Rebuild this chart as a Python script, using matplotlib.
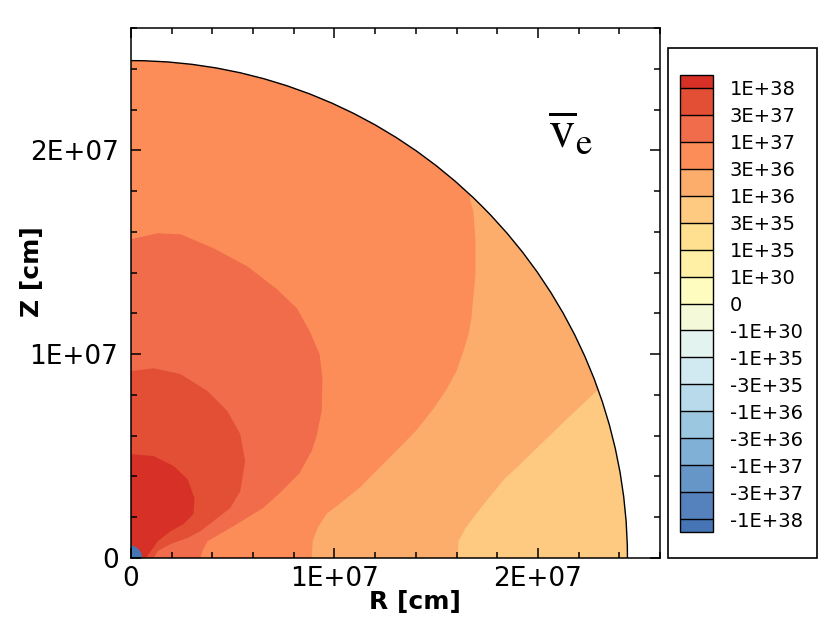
import matplotlib
matplotlib.use("Agg")
import numpy as np
import matplotlib.pyplot as plt
from matplotlib.colors import ListedColormap, BoundaryNorm
from matplotlib.cm import ScalarMappable
from matplotlib.patches import Wedge, Arc, Rectangle
from matplotlib.ticker import MultipleLocator

# --- colour bar levels (bottom to top) and their labels
levels = [-1e38, -3e37, -1e37, -3e36, -1e36, -3e35, -1e35, -1e30, 0,
          1e30, 1e35, 3e35, 1e36, 3e36, 1e37, 3e37, 1e38]
level_labels = ["-1E+38", "-3E+37", "-1E+37", "-3E+36", "-1E+36", "-3E+35",
                "-1E+35", "-1E+30", "0", "1E+30", "1E+35", "3E+35", "1E+36",
                "3E+36", "1E+37", "3E+37", "1E+38"]
band_colors = ["#5582bd", "#6696c8", "#80b0d5", "#9cc7e1", "#b8daeb", "#d1eaf2",
               "#e3f3f0", "#f3f9d9", "#fffcbf", "#fff0a6", "#fee090", "#fec980",
               "#fdad6b", "#fc8d59", "#f06c4a", "#e34f35"]
color_under = "#4575b4"
color_over = "#d73027"

# --- axis ticks
tick_values = [0, 1e7, 2e7]
tick_labels = ["0", "1E+07", "2E+07"]
surface_radius = 2.44e7  # cm

# --- contour boundaries (units of 1E6 cm),
#     each runs from the R axis upward; value = a value inside the region
base_value = 5e35
c1e36_r = [16.05, 16.10, 16.44, 17.07, 17.46, 18.39, 18.93, 20.15, 21.32, 22.78, 24.88]
c1e36_z = [0.00, 0.83, 1.47, 2.30, 2.79, 3.92, 4.41, 5.59, 6.72, 8.09, 9.90]
c1e36_value = 2e36
c3e36_r = [8.88, 8.93, 9.17, 9.61, 10.24, 11.22, 12.20, 13.17, 14.00, 14.78,
           15.46, 16.00, 16.34, 16.59, 16.73, 16.93, 16.93, 16.83, 16.68, 16.59]
c3e36_z = [0.00, 0.83, 1.47, 2.16, 2.65, 3.43, 4.41, 5.39, 6.23, 7.21,
           8.19, 9.17, 10.15, 10.98, 11.76, 13.92, 15.54, 17.01, 17.50, 18.97]
c3e36_value = 5e36
c1e37_r = [3.41, 3.51, 3.76, 4.88, 6.49, 7.32, 8.29, 8.88, 9.12, 9.37, 9.41,
           9.27, 8.78, 8.15, 7.17, 5.71, 4.05, 2.44, 1.32, 0.00]
c1e37_z = [0.00, 0.34, 0.83, 1.47, 2.45, 3.19, 4.17, 5.25, 5.98, 7.21, 8.82,
           10.00, 11.13, 12.25, 13.19, 14.31, 15.20, 15.88, 15.93, 15.64]
c1e37_value = 2e37
c3e37_r = [1.12, 1.32, 1.95, 2.78, 3.41, 4.05, 4.88, 5.37, 5.61, 5.37, 4.73,
           3.76, 2.44, 1.12, 0.00]
c3e37_z = [0.00, 0.34, 0.69, 0.98, 1.32, 1.81, 2.45, 3.28, 4.75, 6.08, 7.21,
           8.19, 9.02, 9.31, 9.17]
c3e37_value = 5e37
c1e38_r = [0.73, 0.98, 1.32, 1.95, 2.59, 3.07, 3.12, 2.78, 2.10, 1.12, 0.00]
c1e38_z = [0.00, 0.34, 0.83, 1.32, 1.67, 2.16, 2.94, 3.87, 4.51, 5.00, 5.10]
c1e38_value = 2e38
neg_r = [0.55, 0.50, 0.36, 0.16, 0.00]
neg_z = [0.00, 0.26, 0.45, 0.58, 0.62]
neg_value = -2e38

regions = [
    (c1e36_r, c1e36_z, c1e36_value),
    (c3e36_r, c3e36_z, c3e36_value),
    (c1e37_r, c1e37_z, c1e37_value),
    (c3e37_r, c3e37_z, c3e37_value),
    (c1e38_r, c1e38_z, c1e38_value),
    (neg_r, neg_z, neg_value),
]

cmap = ListedColormap(band_colors)
cmap.set_under(color_under)
cmap.set_over(color_over)
norm = BoundaryNorm(levels, cmap.N)

W, H = 830, 638


def px_box(left, top, right, bottom):
    return [left / W, 1 - bottom / H, (right - left) / W, (bottom - top) / H]


fig = plt.figure(figsize=(W / 100, H / 100), dpi=100)
ax = fig.add_axes(px_box(131, 28, 660, 558))

# quarter disk of the star, everything is clipped to it
disk = Wedge((0, 0), surface_radius, 0, 90, transform=ax.transData)
far = 3e7
base = ax.fill([0, far, far, 0], [0, 0, far, far], color=cmap(norm(base_value)), lw=0)[0]
base.set_clip_path(disk)
for rr, zz, val in regions:
    xs = [0] + [r * 1e6 for r in rr]
    ys = [0] + [z * 1e6 for z in zz]
    if rr[-1] > 0:  # curve leaves through the surface
        xs += [xs[-1], 0]
        ys += [far, far]
    poly = ax.fill(xs, ys, color=cmap(norm(val)), lw=0)[0]
    poly.set_clip_path(disk)

ax.add_patch(Arc((0, 0), 2 * surface_radius, 2 * surface_radius, theta1=0, theta2=90,
                 color="black", lw=1.0))

ax.set_xlim(0, 2.6e7)
ax.set_ylim(0, 2.6e7)
ax.set_xticks(tick_values)
ax.set_xticklabels(tick_labels)
ax.set_yticks(tick_values)
ax.set_yticklabels(tick_labels)
ax.xaxis.set_minor_locator(MultipleLocator(2e6))
ax.yaxis.set_minor_locator(MultipleLocator(2e6))
ax.tick_params(which="both", direction="in", top=True, right=True, width=1.1)
ax.tick_params(which="major", length=7, labelsize=19)
ax.tick_params(axis="x", which="major", pad=6)
ax.tick_params(axis="y", which="major", pad=9)
ax.tick_params(which="minor", length=4.5)
for sp in ax.spines.values():
    sp.set_linewidth(1.1)

ax.set_xlabel("R [cm]", fontsize=18, fontweight="bold")
ax.set_ylabel("Z [cm]", fontsize=18, fontweight="bold")
ax.xaxis.set_label_coords(0.537, -0.06)
ax.yaxis.set_label_coords(-0.165, 0.54)

plt.rcParams["mathtext.fontset"] = "stix"
ax.text(0.83, 0.805, r"$\overline{\mathrm{v}}_{\mathrm{e}}$", transform=ax.transAxes,
        fontsize=38, ha="center", va="center")

# --- legend box with the colour bar (drawn on level index, equal boxes)
fig.add_artist(Rectangle((668 / W, 1 - 558 / H), 149 / W, 510 / H,
                         transform=fig.transFigure, fill=False, lw=1.2, ec="black"))
cax = fig.add_axes(px_box(680, 75, 713, 532))
level_idx = np.arange(len(levels))
idx_norm = BoundaryNorm(level_idx, cmap.N)
cb = fig.colorbar(ScalarMappable(norm=idx_norm, cmap=cmap), cax=cax, extend="both",
                  extendrect=True, extendfrac=0.03, spacing="uniform",
                  drawedges=True, ticks=level_idx)
cb.ax.set_yticklabels(level_labels, fontsize=14)
cb.ax.tick_params(length=0, pad=12)
cb.outline.set_linewidth(1.0)
cb.dividers.set_color("black")
cb.dividers.set_linewidth(1.0)

fig.savefig("out.png", dpi=100)
